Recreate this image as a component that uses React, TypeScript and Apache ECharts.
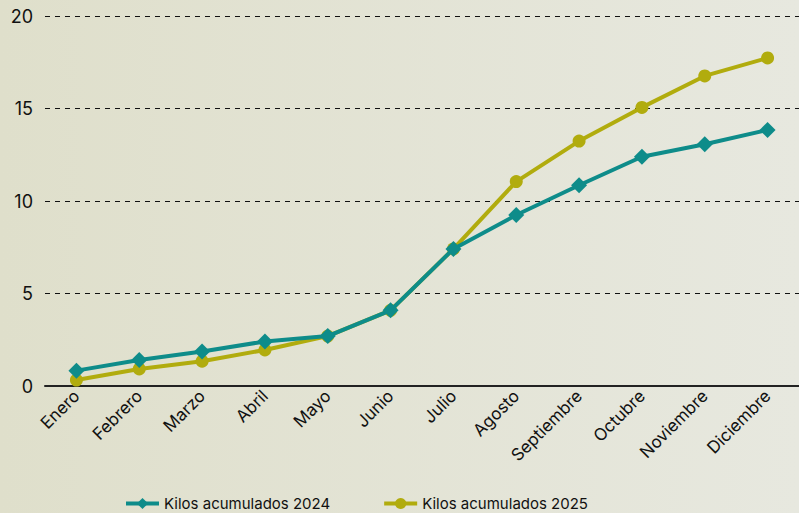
import React, { useEffect, useRef } from "react";
import * as echarts from "echarts";

const months = ["Enero", "Febrero", "Marzo", "Abril", "Mayo", "Junio", "Julio", "Agosto", "Septiembre", "Octubre", "Noviembre", "Diciembre"];
const kilos2024 = [0.83, 1.41, 1.86, 2.41, 2.7, 4.09, 7.41, 9.24, 10.85, 12.39, 13.07, 13.84];
const kilos2025 = [0.32, 0.92, 1.34, 1.95, 2.7, 4.09, 7.41, 11.05, 13.24, 15.06, 16.76, 17.73];

const TEAL = "#0e8c8a";
const OLIVE = "#b1ac0e";
const FONT = "Inter, 'Noto Sans', sans-serif";

export default function App() {
  const ref = useRef<HTMLDivElement>(null);
  useEffect(() => {
    const chart = echarts.init(ref.current!, null, { renderer: "svg" });
    chart.setOption({
      animation: false,
      textStyle: { fontFamily: FONT },
      grid: { left: 45, right: -4, top: 16, bottom: 127, containLabel: false },
      legend: {
        bottom: 2,
        left: 124,
        padding: 0,
        itemGap: 52,
        itemWidth: 33,
        itemHeight: 14,
        lineStyle: { width: 4 },
        textStyle: { fontSize: 15, color: "#111", fontFamily: FONT },
        data: ["Kilos acumulados 2024", "Kilos acumulados 2025"],
      },
      xAxis: {
        type: "category",
        data: months,
        boundaryGap: true,
        axisLine: { lineStyle: { color: "#222", width: 2 } },
        axisTick: { show: false },
        axisLabel: { rotate: 45, fontSize: 17, color: "#111", margin: 7, interval: 0, fontFamily: FONT },
      },
      yAxis: {
        type: "value",
        min: 0,
        max: 20,
        interval: 5,
        axisLine: { show: false },
        axisTick: { show: false },
        axisLabel: { fontSize: 18, color: "#111", margin: 12, fontFamily: FONT },
        splitLine: { lineStyle: { color: "#111", type: [5, 5], width: 1.2 } },
      },
      series: [
        {
          name: "Kilos acumulados 2024",
          type: "line",
          data: kilos2024,
          z: 3,
          symbol: "diamond",
          symbolSize: 16,
          lineStyle: { color: TEAL, width: 4 },
          itemStyle: { color: TEAL },
        },
        {
          name: "Kilos acumulados 2025",
          type: "line",
          data: kilos2025,
          z: 2,
          symbol: "circle",
          symbolSize: 13,
          lineStyle: { color: OLIVE, width: 4 },
          itemStyle: { color: OLIVE },
        },
      ],
    });
    return () => chart.dispose();
  }, []);
  return (
    <div style={{ position: "fixed", left: 0, top: 0, width: 799, height: 513, background: "linear-gradient(to right, #dfdfcb, #e7e8df)" }}>
      <div ref={ref} style={{ width: 799, height: 513 }} />
    </div>
  );
}
